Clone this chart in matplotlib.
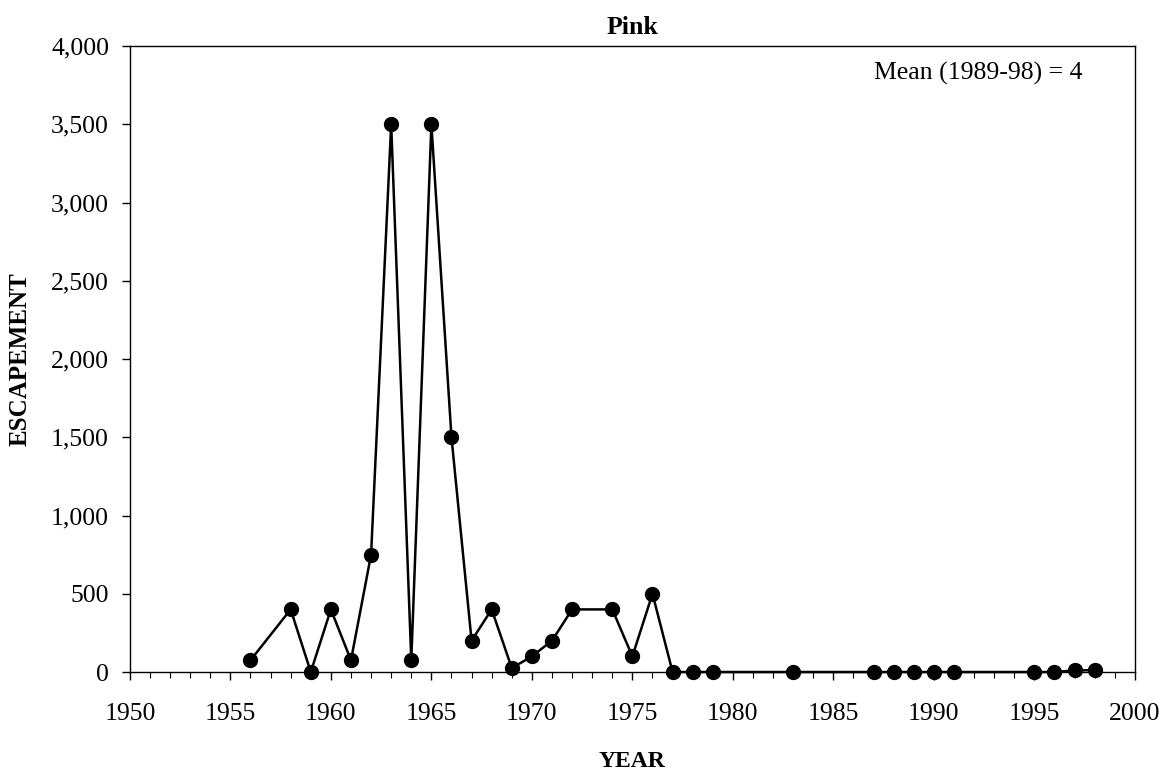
import matplotlib
matplotlib.use("Agg")
import matplotlib.pyplot as plt
from matplotlib.ticker import MultipleLocator, FuncFormatter

# datos de escape (pink)
years = [1956, 1958, 1959, 1960, 1961, 1962, 1963, 1964, 1965, 1966, 1967, 1968,
         1969, 1970, 1971, 1972, 1974, 1975, 1976, 1977, 1978, 1979, 1983,
         1987, 1988, 1989, 1990, 1991, 1995, 1996, 1997, 1998]
escapement = [75, 400, 0, 400, 75, 750, 3500, 75, 3500, 1500, 200, 400,
              25, 100, 200, 400, 400, 100, 500, 0, 0, 0, 0,
              0, 0, 0, 0, 0, 0, 0, 10, 12]
mean_label = "Mean (1989-98) = 4"

plt.rcParams['font.family'] = ['Liberation Serif', 'DejaVu Serif']

fig = plt.figure(figsize=(11.7, 7.71), dpi=100)
ax = fig.add_axes([0.111, 0.1284, 0.859, 0.8119])

ax.plot(years, escapement, color="black", linewidth=1.8, marker="o",
        markersize=10, clip_on=False, zorder=3)

ax.set_xlim(1950, 2000)
ax.set_ylim(0, 4000)
ax.xaxis.set_major_locator(MultipleLocator(5))
ax.xaxis.set_minor_locator(MultipleLocator(1))
ax.yaxis.set_major_locator(MultipleLocator(500))
ax.yaxis.set_major_formatter(FuncFormatter(lambda v, p: f"{int(v):,}"))
ax.tick_params(axis="both", which="both", direction="out", labelsize=18.5, color="black")
ax.tick_params(axis="both", which="major", length=6, width=1)
ax.tick_params(axis="x", which="minor", length=4, width=0.8)
ax.tick_params(axis="x", pad=16)
ax.tick_params(axis="y", pad=9)

for s in ax.spines.values():
    s.set_linewidth(1.0)
    s.set_color("black")

ax.set_title("Pink", fontsize=18.5, fontweight="bold", pad=9)
ax.set_xlabel("YEAR", fontsize=17, fontweight="bold", labelpad=19)
ax.set_ylabel("ESCAPEMENT", fontsize=18, fontweight="bold", labelpad=14)
ax.text(0.948, 0.975, mean_label, transform=ax.transAxes, ha="right", va="top", fontsize=18.5)

fig.savefig("out.png", dpi=100)
